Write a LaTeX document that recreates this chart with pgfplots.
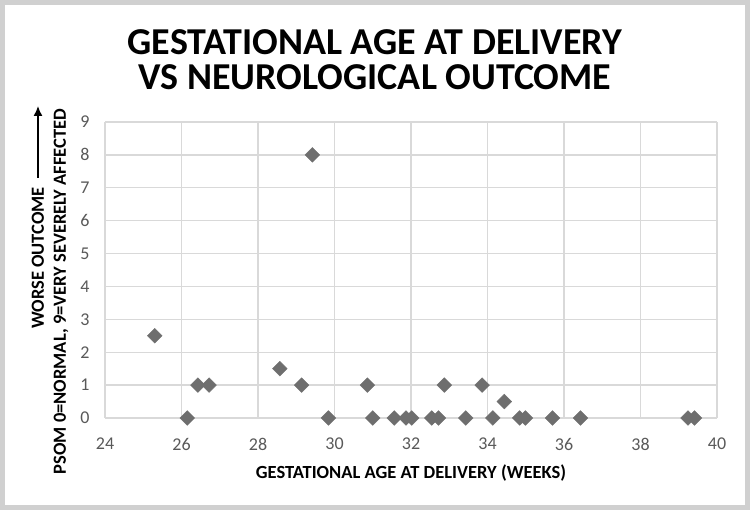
\documentclass[border=0pt]{standalone}
\usepackage{pgfplots}
\pgfplotsset{compat=1.18}
\usetikzlibrary{arrows.meta}
\usepackage{fontspec}
\setmainfont{Carlito}
\definecolor{gridc}{HTML}{D9D9D9}
\definecolor{framec}{HTML}{D0D0D0}
\definecolor{markc}{HTML}{6E6E6E}
\definecolor{tickc}{HTML}{595959}

\begin{document}
\begin{tikzpicture}[x=1pt,y=1pt]
\fill[white] (0,0) rectangle (750,510);
\draw[framec, line width=5pt] (2.5,2.5) rectangle (747.5,507.5);

\node[font=\fontsize{38}{35}\selectfont\bfseries, align=center] at (375,450.5)
  {GESTATIONAL AGE AT DELIVERY\\VS NEUROLOGICAL OUTCOME};

\begin{axis}[
    at={(105pt,92pt)}, anchor=south west,
    scale only axis,
    width=612pt, height=296pt,
    xmin=24, xmax=40, ymin=0, ymax=9,
    xtick={24,26,...,40},
    ytick={0,1,...,9},
    grid=major,
    grid style={gridc, line width=1.4pt},
    axis line style={draw=none},
    major tick style={draw=none},
    tick label style={font=\fontsize{18}{21}\selectfont, text=tickc},
    /pgf/number format/assume math mode=true,
    xticklabel style={anchor=center, yshift=-26pt},
    yticklabel style={anchor=east, xshift=-12pt},
    xlabel={GESTATIONAL AGE AT DELIVERY (WEEKS)},
    xlabel style={at={(axis description cs:0.5,0)}, anchor=center, yshift=-55.5pt,
        font=\fontsize{18.5}{22}\selectfont\bfseries},
    clip=false,
]
\addplot[only marks, mark=square*, mark size=5.2pt, color=markc,
    mark options={rotate=45}] coordinates {
    (25.30,2.5) (26.15,0) (26.43,1) (26.72,1) (28.57,1.5) (29.14,1)
    (29.42,8) (29.84,0) (30.86,1) (31.00,0) (31.56,0) (31.87,0)
    (32.02,0) (32.54,0) (32.72,0) (32.87,1) (33.43,0) (33.86,1)
    (34.14,0) (34.44,0.5) (34.84,0) (34.99,0) (35.70,0) (36.43,0)
    (39.24,0) (39.41,0)
};
\end{axis}

\node[rotate=90, font=\fontsize{18.5}{22}\selectfont\bfseries] at (38,252) {WORSE OUTCOME};
\draw[line width=1.5pt, -{Latex[length=10pt,width=9pt]}] (38,332) -- (38,404);
\node[rotate=90, font=\fontsize{18.5}{22}\selectfont\bfseries] at (61,218.5)
  {PSOM 0=NORMAL, 9=VERY SEVERELY AFFECTED};
\end{tikzpicture}
\end{document}
